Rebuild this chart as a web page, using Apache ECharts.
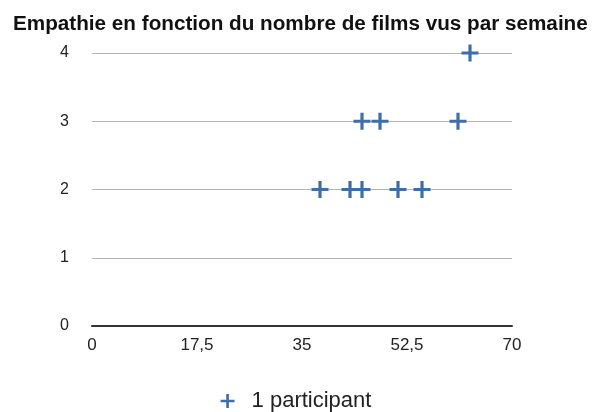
<!DOCTYPE html>
<html>
<head>
<meta charset="utf-8">
<script src="https://cdn.jsdelivr.net/npm/echarts@6/dist/echarts.min.js"></script>
<style>
    html, body { margin: 0; padding: 0; background: #fff; }
    #chart { width: 592px; height: 412px; }
</style>
</head>
<body>
<div id="chart"></div>
<script>
// films vus par semaine / empathie
const filmsVus = [63, 45, 48, 61, 38, 43, 45, 51, 55];
const empathie = [4, 3, 3, 3, 2, 2, 2, 2, 2];
const xTicks = [0, 17.5, 35, 52.5, 70];
const seriesName = '1 participant';

const plus = 'path://M6.5,0H9.5V6.5H16V9.5H9.5V16H6.5V9.5H0V6.5H6.5Z';

let chartDom = document.getElementById('chart');
let chart = echarts.init(chartDom);

const points = filmsVus.map((v, i) => [v, empathie[i]]);

chart.setOption({
    animation: false,
    textStyle: { fontFamily: 'Liberation Sans, Arial, sans-serif' },
    title: {
        text: 'Empathie en fonction du nombre de films vus par semaine',
        left: 8,
        top: 9,
        textStyle: { fontSize: 20.7, fontWeight: 'bold', color: '#111' }
    },
    grid: { left: 92, right: 80, top: 53, bottom: 86 },
    xAxis: {
        type: 'value',
        min: 0,
        max: 70,
        interval: 17.5,
        axisLine: { show: true, lineStyle: { color: '#333', width: 2 } },
        axisTick: { show: false },
        splitLine: { show: false },
        axisLabel: {
            color: '#222',
            fontSize: 17,
            margin: 11,
            formatter: v => xTicks.includes(v) ? String(v).replace('.', ',') : ''
        }
    },
    yAxis: {
        type: 'value',
        min: 0,
        max: 4,
        interval: 1,
        axisLine: { show: false },
        axisTick: { show: false },
        splitLine: { lineStyle: { color: '#b3b3b3', width: 1 } },
        axisLabel: { color: '#222', fontSize: 16, margin: 23 }
    },
    legend: {
        top: 385,
        left: 'center',
        itemWidth: 14,
        itemHeight: 14,
        itemGap: 10,
        textStyle: { fontSize: 22, color: '#222', padding: [0, 0, 0, 12] },
        data: [{ name: seriesName, icon: plus }]
    },
    series: [
        {
            name: seriesName,
            type: 'scatter',
            symbol: plus,
            symbolSize: 17,
            itemStyle: { color: '#3d6ea8', opacity: 1 },
            data: points
        }
    ]
});
</script>
</body>
</html>
